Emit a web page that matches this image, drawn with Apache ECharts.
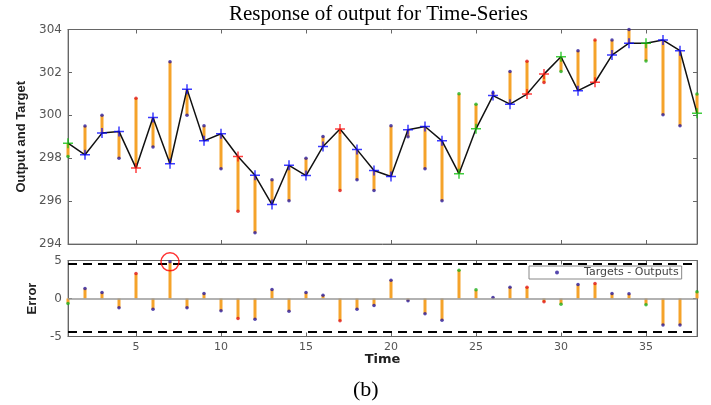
<!DOCTYPE html>
<html>
<head>
<meta charset="utf-8">
<script src="https://cdn.jsdelivr.net/npm/echarts@6/dist/echarts.min.js"></script>
<style>
  html, body { margin: 0; padding: 0; background: #fff; }
  #chart { width: 711px; height: 405px; }
</style>
</head>
<body>
<div id="chart"></div>
<script>
// time steps
var times = [1,2,3,4,5,6,7,8,9,10,11,12,13,14,15,16,17,18,19,20,21,22,23,24,25,26,27,28,29,30,31,32,33,34,35,36,37,38]
// network outputs (line with + markers)
var outputs = [298.7,298.16,299.17,299.25,297.54,299.9,297.74,301.22,298.81,299.14,298.08,297.2,295.84,297.67,297.19,298.55,299.36,298.4,297.43,297.15,299.33,299.48,298.81,297.28,299.37,300.92,300.52,300.99,301.92,302.73,301.15,301.54,302.81,303.36,303.36,303.51,303.01,300.1]
// targets (dots at bar ends)
var targets = [298.08,299.5,300.0,298.0,300.8,298.52,302.5,300.0,299.51,297.51,295.53,294.52,297.0,296.02,298.0,299.01,296.5,297.0,296.5,299.51,299.0,297.51,296.02,301.0,300.52,301.05,302.04,302.52,301.53,302.04,303.01,303.51,303.51,304.0,302.53,300.02,299.51,300.99]
// targets - outputs
var errors = [-0.65,1.32,0.79,-1.23,3.29,-1.4,4.82,-1.23,0.66,-1.62,-2.63,-2.72,1.18,-1.67,0.79,0.44,-2.94,-1.4,-0.92,2.41,-0.31,-2.02,-2.85,3.73,1.14,0.13,1.49,1.49,-0.44,-0.75,1.84,1.97,0.66,0.61,-0.83,-3.5,-3.5,0.88]
// t = training, v = validation, s = test
var sets = ['v','t','t','t','s','t','t','t','t','t','s','t','t','t','t','t','s','t','t','t','t','t','t','v','v','t','t','s','s','v','t','s','t','t','v','t','t','v']
var xTicks = [5,10,15,20,25,30,35]
var errBounds = [4.6, -4.35]
var circledTime = 7

var setColor = { t: '#0a0aff', v: '#10c010', s: '#ff1010' }
var dotColor = { t: '#2a1a9a', v: '#20b020', s: '#e01818' }
var orange = '#f5a32a'
var plusPath = 'path://M0,4.25H10V5.75H0Z M4.25,0H5.75V10H4.25Z'

function stem(params, api) {
  var x = api.value(0)
  var a = api.coord([x, api.value(1)])
  var b = api.coord([x, api.value(2)])
  return {
    type: 'line',
    shape: { x1: a[0], y1: a[1], x2: b[0], y2: b[1] },
    style: { stroke: orange, lineWidth: 3 }
  }
}

function xAxisDef(gridIndex, pos, labels) {
  return {
    type: 'value', gridIndex: gridIndex, position: pos, min: 1, max: 38,
    axisLine: { show: true, onZero: false, lineStyle: { color: '#666' } },
    axisTick: { show: true, inside: true, length: 4, customValues: xTicks, lineStyle: { color: '#666' } },
    axisLabel: { show: labels, customValues: xTicks, color: '#555', fontFamily: 'DejaVu Sans', fontSize: 11, margin: 5 },
    splitLine: { show: false }
  }
}
function yAxisDef(gridIndex, pos, min, max, interval, labels) {
  return {
    type: 'value', gridIndex: gridIndex, position: pos, min: min, max: max, interval: interval,
    axisLine: { show: true, onZero: false, lineStyle: { color: '#666' } },
    axisTick: { show: true, inside: true, length: 4, lineStyle: { color: '#666' } },
    axisLabel: { show: labels, color: '#555', fontFamily: 'DejaVu Sans', fontSize: 12, margin: 6 },
    splitLine: { show: false }
  }
}

var topX = xAxisDef(0, 'bottom', false)
var topY = yAxisDef(0, 'left', 294, 304, 2, true)
topY.name = 'Output and Target'
topY.nameLocation = 'middle'
topY.nameGap = 40
topY.nameTextStyle = { fontFamily: 'Liberation Sans', fontWeight: 'bold', fontSize: 13, color: '#222' }

var botX = xAxisDef(1, 'bottom', true)
botX.name = 'Time'
botX.nameLocation = 'middle'
botX.nameGap = 14
botX.nameTextStyle = { fontFamily: 'DejaVu Sans', fontWeight: 'bold', fontSize: 13, color: '#222' }
var botY = yAxisDef(1, 'left', -5, 5, 5, true)
botY.name = 'Error'
botY.nameLocation = 'middle'
botY.nameGap = 18
botY.nameTextStyle = { fontFamily: 'Liberation Sans', fontWeight: 'bold', fontSize: 13, color: '#222' }

var topStems = times.map(function (t, i) { return [t, outputs[i], targets[i]] })
var botStems = times.map(function (t, i) { return [t, 0, errors[i]] })
var outPts = times.map(function (t, i) { return { value: [t, outputs[i]], itemStyle: { color: setColor[sets[i]] } } })
var tgtPts = times.map(function (t, i) { return { value: [t, targets[i]], itemStyle: { color: dotColor[sets[i]] } } })
var errPts = times.map(function (t, i) { return { value: [t, errors[i]], itemStyle: { color: dotColor[sets[i]] } } })
var ci = times.indexOf(circledTime)

var chart = echarts.init(document.getElementById('chart'), null, { renderer: 'canvas' })
chart.setOption({
  animation: false,
  backgroundColor: '#fff',
  title: [
    { text: 'Response of output for Time-Series', left: 229, top: 4, padding: 0,
      textStyle: { fontFamily: 'Liberation Serif', fontWeight: 'normal', fontSize: 21, color: '#000' } },
    { text: '(b)', left: 353, top: 379, padding: 0,
      textStyle: { fontFamily: 'Liberation Serif', fontWeight: 'normal', fontSize: 22, color: '#000' } }
  ],
  legend: {
    data: ['Targets - Outputs'],
    left: 529, top: 266, orient: 'horizontal',
    padding: [1, 3, 1, 26],
    itemWidth: 4, itemHeight: 4,
    backgroundColor: '#fff', borderColor: '#888', borderWidth: 1,
    textStyle: { fontFamily: 'DejaVu Sans', fontSize: 11, color: '#444', padding: [0, 0, 0, 20], lineHeight: 10 }
  },
  grid: [
    { left: 68, right: 14, top: 29.5, height: 214.5, show: true, borderColor: '#888', backgroundColor: '#fff' },
    { left: 68, right: 14, top: 260.5, height: 76, show: true, borderColor: '#888', backgroundColor: '#fff' }
  ],
  xAxis: [topX, xAxisDef(0, 'top', false), botX, xAxisDef(1, 'top', false)],
  yAxis: [topY, yAxisDef(0, 'right', 294, 304, 2, false), botY, yAxisDef(1, 'right', -5, 5, 5, false)],
  series: [
    { type: 'custom', xAxisIndex: 0, yAxisIndex: 0, renderItem: stem, data: topStems, z: 2 },
    { type: 'line', xAxisIndex: 0, yAxisIndex: 0, data: times.map(function (t, i) { return [t, outputs[i]] }),
      showSymbol: false, lineStyle: { color: '#111', width: 1.5 }, z: 3 },
    { type: 'scatter', xAxisIndex: 0, yAxisIndex: 0, data: tgtPts, symbol: 'circle', symbolSize: 3.5, z: 4 },
    { type: 'scatter', xAxisIndex: 0, yAxisIndex: 0, data: outPts, symbol: plusPath, symbolSize: 10, z: 5 },

    { type: 'custom', xAxisIndex: 2, yAxisIndex: 2, renderItem: stem, data: botStems, z: 2 },
    { name: 'Targets - Outputs', type: 'scatter', xAxisIndex: 2, yAxisIndex: 2, data: errPts,
      symbol: 'circle', symbolSize: 3.5, itemStyle: { color: '#2a1a9a' }, z: 4,
      markLine: {
        silent: true, symbol: 'none', label: { show: false },
        data: [
          { yAxis: 0, lineStyle: { color: '#999', width: 1.5, type: 'solid' } },
          { yAxis: errBounds[0], lineStyle: { color: '#000', width: 2, type: [9, 6] } },
          { yAxis: errBounds[1], lineStyle: { color: '#000', width: 2, type: [9, 6] } }
        ]
      } },
    { type: 'scatter', xAxisIndex: 2, yAxisIndex: 2, data: [[times[ci], errors[ci]]], symbol: 'circle', symbolSize: 18,
      itemStyle: { color: 'transparent', borderColor: '#ff0000', borderWidth: 1.5 }, z: 6 }
  ]
})
</script>
</body>
</html>
